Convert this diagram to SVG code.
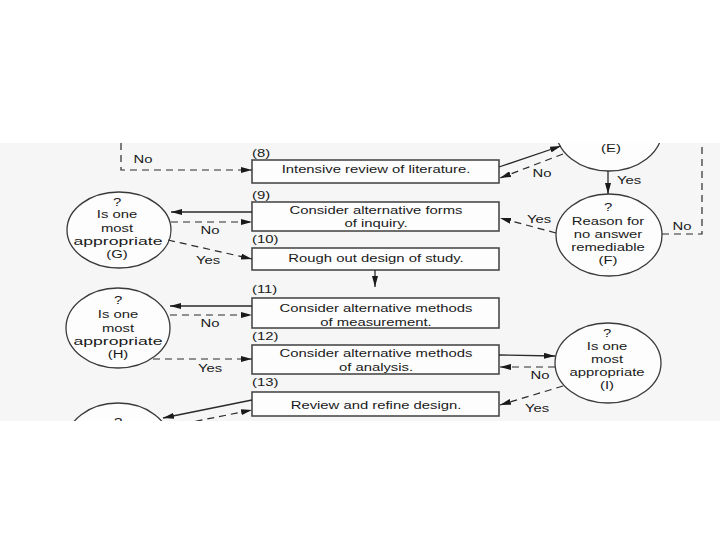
<svg xmlns="http://www.w3.org/2000/svg" width="720" height="540" viewBox="0 0 720 540">
<defs>
<style>
.bx{fill:#fdfdfd;stroke:#4a4a4a;stroke-width:1.6}
.el{fill:#fdfdfd;stroke:#3a3a3a;stroke-width:1.3}
.t{font-family:"Liberation Sans",Arial,sans-serif;font-size:11px;fill:#1a1a1a;text-anchor:middle}
.n{font-family:"Liberation Sans",Arial,sans-serif;font-size:11px;fill:#1a1a1a;text-anchor:start}
.s{fill:none;stroke:#2a2a2a;stroke-width:1.3}
.d{fill:none;stroke:#2a2a2a;stroke-width:1.2;stroke-dasharray:7 5}
</style>
<marker id="ah" markerUnits="userSpaceOnUse" markerWidth="11" markerHeight="6" refX="11" refY="3" orient="auto">
<path d="M0,0 L11,3 L0,6 z" fill="#1a1a1a"/>
</marker>
<clipPath id="cp"><rect x="0" y="143" width="720" height="278"/></clipPath>
</defs>
<rect x="0" y="0" width="720" height="540" fill="#ffffff"/>
<rect x="0" y="143" width="720" height="278" fill="#f6f6f6"/>
<g clip-path="url(#cp)">
<g id="n8">
<text class="n" transform="translate(252,157) scale(1.35,1)">(8)</text>
<rect class="bx" x="252" y="160" width="247" height="23"/>
<text class="t" transform="translate(376,173) scale(1.35,1)">Intensive review of literature.</text>
</g>
<g id="n9">
<text class="n" transform="translate(252,199) scale(1.35,1)">(9)</text>
<rect class="bx" x="252" y="202" width="247" height="29"/>
<text class="t" transform="translate(376,214) scale(1.35,1)">Consider alternative forms</text>
<text class="t" transform="translate(376,227) scale(1.35,1)">of inquiry.</text>
</g>
<g id="n10">
<text class="n" transform="translate(252,243) scale(1.35,1)">(10)</text>
<rect class="bx" x="252" y="248" width="247" height="22"/>
<text class="t" transform="translate(376,262) scale(1.35,1)">Rough out design of study.</text>
</g>
<g id="n11">
<text class="n" transform="translate(252,293) scale(1.35,1)">(11)</text>
<rect class="bx" x="252" y="298" width="247" height="30"/>
<text class="t" transform="translate(376,312) scale(1.35,1)">Consider alternative methods</text>
<text class="t" transform="translate(376,326) scale(1.35,1)">of measurement.</text>
</g>
<g id="n12">
<text class="n" transform="translate(252,340) scale(1.35,1)">(12)</text>
<rect class="bx" x="252" y="345" width="247" height="29"/>
<text class="t" transform="translate(376,357) scale(1.35,1)">Consider alternative methods</text>
<text class="t" transform="translate(376,371) scale(1.35,1)">of analysis.</text>
</g>
<g id="n13">
<text class="n" transform="translate(252,386) scale(1.35,1)">(13)</text>
<rect class="bx" x="252" y="392" width="247" height="24"/>
<text class="t" transform="translate(376,409) scale(1.35,1)">Review and refine design.</text>
</g>
<g id="nE">
<ellipse class="el" cx="609" cy="130" rx="53" ry="41"/>
<text class="t" transform="translate(611,152) scale(1.35,1)">(E)</text>
</g>
<g id="nF">
<ellipse class="el" cx="609" cy="235" rx="53" ry="41"/>
<text class="t" transform="translate(608,211) scale(1.35,1)">?</text>
<text class="t" transform="translate(608,225) scale(1.35,1)">Reason for</text>
<text class="t" transform="translate(608,238) scale(1.35,1)">no answer</text>
<text class="t" transform="translate(608,251) scale(1.35,1)">remediable</text>
<text class="t" transform="translate(608,264) scale(1.35,1)">(F)</text>
</g>
<g id="nG">
<ellipse class="el" cx="119" cy="230" rx="52" ry="38"/>
<text class="t" transform="translate(117,206) scale(1.35,1)">?</text>
<text class="t" transform="translate(117,218) scale(1.35,1)">Is one</text>
<text class="t" transform="translate(117,232) scale(1.35,1)">most</text>
<text class="t" transform="translate(118,245) scale(1.6,1)">appropriate</text>
<text class="t" transform="translate(117,258) scale(1.35,1)">(G)</text>
</g>
<g id="nH">
<ellipse class="el" cx="118" cy="328" rx="52" ry="40"/>
<text class="t" transform="translate(118,304) scale(1.35,1)">?</text>
<text class="t" transform="translate(118,318) scale(1.35,1)">Is one</text>
<text class="t" transform="translate(118,332) scale(1.35,1)">most</text>
<text class="t" transform="translate(118,345) scale(1.6,1)">appropriate</text>
<text class="t" transform="translate(118,358) scale(1.35,1)">(H)</text>
</g>
<g id="nI">
<ellipse class="el" cx="608" cy="363" rx="53" ry="40"/>
<text class="t" transform="translate(607,337) scale(1.35,1)">?</text>
<text class="t" transform="translate(607,350) scale(1.35,1)">Is one</text>
<text class="t" transform="translate(607,363) scale(1.35,1)">most</text>
<text class="t" transform="translate(607,376) scale(1.35,1)">appropriate</text>
<text class="t" transform="translate(607,389) scale(1.35,1)">(I)</text>
</g>
<g id="nJ">
<ellipse class="el" cx="118" cy="443" rx="52" ry="40"/>
<text class="t" transform="translate(118,426) scale(1.35,1)">?</text>
</g>
<g id="connectors">
<polyline class="d" points="121,143 121,170 252,170" marker-end="url(#ah)"/>
<text class="t" transform="translate(143,163) scale(1.35,1)">No</text>
<line class="s" x1="499" y1="167" x2="561" y2="146" marker-end="url(#ah)"/>
<line class="d" x1="563" y1="154" x2="500" y2="178" marker-end="url(#ah)"/>
<text class="t" transform="translate(542,177) scale(1.35,1)">No</text>
<line class="s" x1="608" y1="171" x2="608" y2="194" marker-end="url(#ah)"/>
<text class="t" transform="translate(629,184) scale(1.35,1)">Yes</text>
<line class="d" x1="556" y1="233" x2="500" y2="218" marker-end="url(#ah)"/>
<text class="t" transform="translate(539,223) scale(1.35,1)">Yes</text>
<polyline class="d" points="662,234 702,234 702,143"/>
<text class="t" transform="translate(682,230) scale(1.35,1)">No</text>
<line class="s" x1="252" y1="212" x2="171" y2="212" marker-end="url(#ah)"/>
<line class="d" x1="171" y1="222" x2="252" y2="222" marker-end="url(#ah)"/>
<text class="t" transform="translate(210,234) scale(1.35,1)">No</text>
<line class="d" x1="168" y1="240" x2="252" y2="259" marker-end="url(#ah)"/>
<text class="t" transform="translate(208,264) scale(1.35,1)">Yes</text>
<line class="s" x1="375" y1="270" x2="375" y2="287" marker-end="url(#ah)"/>
<line class="s" x1="252" y1="306" x2="170" y2="306" marker-end="url(#ah)"/>
<line class="d" x1="170" y1="315" x2="252" y2="315" marker-end="url(#ah)"/>
<text class="t" transform="translate(210,327) scale(1.35,1)">No</text>
<line class="d" x1="153" y1="359" x2="252" y2="359" marker-end="url(#ah)"/>
<text class="t" transform="translate(210,372) scale(1.35,1)">Yes</text>
<line class="s" x1="499" y1="355" x2="555" y2="356" marker-end="url(#ah)"/>
<line class="d" x1="555" y1="367" x2="500" y2="367" marker-end="url(#ah)"/>
<text class="t" transform="translate(540,379) scale(1.35,1)">No</text>
<line class="d" x1="563" y1="386" x2="500" y2="405" marker-end="url(#ah)"/>
<text class="t" transform="translate(537,412) scale(1.35,1)">Yes</text>
<line class="s" x1="252" y1="400" x2="163" y2="418" marker-end="url(#ah)"/>
<line class="d" x1="172" y1="426" x2="252" y2="410" marker-end="url(#ah)"/>
</g>
</g>
</svg>
